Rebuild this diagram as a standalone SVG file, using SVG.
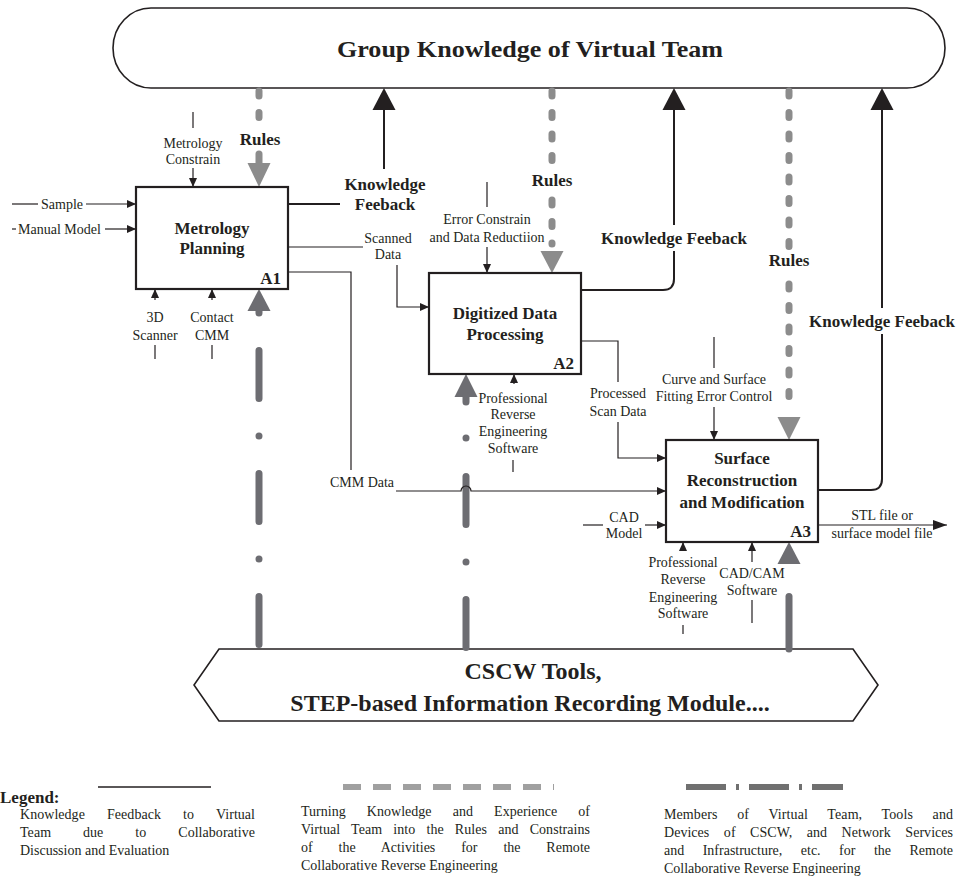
<svg xmlns="http://www.w3.org/2000/svg" width="960" height="885" viewBox="0 0 960 885">
<defs>
<style>
.t{font-family:"Liberation Serif","Times New Roman",serif;font-size:14px;fill:#231f20;text-anchor:middle}
.b{font-weight:bold;font-size:17px}
.s{text-anchor:start}
.ln{stroke:#231f20;stroke-width:1.2;fill:none}
.kf{stroke:#231f20;stroke-width:2;fill:none}
.box{fill:#fff;stroke:#231f20;stroke-width:2.2}
.rule{stroke:#8c8c8c;stroke-width:7;stroke-linecap:round;stroke-dasharray:5 16.5;fill:none}
.rhead{fill:#8c8c8c}
.mem{stroke:#6d6d72;stroke-width:7;stroke-linecap:round;fill:none}
.memd{stroke:#6d6d72;stroke-width:7;stroke-linecap:round;stroke-dasharray:48 37.5 0 37.5;fill:none}
.mhead{fill:#6d6d72}
.khead{fill:#231f20}
</style>
<marker id="ar" markerUnits="userSpaceOnUse" markerWidth="10" markerHeight="9" refX="9" refY="4" orient="auto">
<path d="M0,0 L9,4 L0,8 z" fill="#231f20"/>
</marker>
<marker id="arL" markerUnits="userSpaceOnUse" markerWidth="15" markerHeight="10" refX="14" refY="5" orient="auto">
<path d="M0,0 L14,5 L0,10 z" fill="#231f20"/>
</marker>
</defs>
<rect width="960" height="885" fill="#fff"/>

<g id="group-knowledge">
<rect x="113" y="8" width="832" height="80" rx="38" ry="40" fill="#fff" stroke="#231f20" stroke-width="1.6"/>
<text class="t b" x="530" y="57" style="font-size:24px" textLength="386" lengthAdjust="spacingAndGlyphs">Group Knowledge  of  Virtual Team</text>
</g>

<g id="cscw-tools">
<polygon points="219,649 853,649 878,685 853,721 219,721 194,685" fill="#fff" stroke="#231f20" stroke-width="1.6"/>
<text class="t b" x="533" y="679" style="font-size:24px">CSCW Tools,</text>
<text class="t b" x="530" y="711" style="font-size:24px">STEP-based Information Recording Module....</text>
</g>

<g id="connectors">
<!-- Rules (gray dashed) -->
<path class="rule" d="M259,91 V125"/>
<text class="t b" x="260" y="145">Rules</text>
<path d="M259,154 V164" stroke="#8c8c8c" stroke-width="7" stroke-linecap="round"/>
<polygon class="rhead" points="247.5,163 270.5,163 259,187"/>

<path class="rule" d="M552,91 V166"/>
<text class="t b" x="552" y="186">Rules</text>
<path class="rule" d="M552,200 V244"/>
<polygon class="rhead" points="540.5,251 563.5,251 552,273"/>

<path class="rule" d="M789,91 V248"/>
<text class="t b" x="789" y="266">Rules</text>
<path class="rule" d="M789,284 V410"/>
<polygon class="rhead" points="777.5,417 800.5,417 789,440"/>

<!-- Members (dash-dot) -->
<polygon class="mhead" points="247.5,311 270.5,311 259,289"/>
<path class="mem" d="M259,309 V313"/>
<path class="memd" d="M259,350.5 V649"/>

<polygon class="mhead" points="454.5,397 477.5,397 466,374"/>
<path class="mem" d="M466,396 V402"/>
<circle cx="466" cy="438" r="3.5" fill="#6d6d72"/>
<path class="memd" d="M466,476.5 V649"/>

<polygon class="mhead" points="777.5,564 800.5,564 789,542"/>
<path class="mem" d="M789,596.5 V649"/>

<!-- Knowledge feedback -->
<path class="kf" d="M288,204 H340"/>
<path class="kf" d="M384,169 V108"/>
<polygon class="khead" points="372.5,110 395.5,110 384,88"/>
<text class="t b" x="385" y="190">Knowledge</text>
<text class="t b" x="385" y="210">Feeback</text>

<path class="kf" d="M581,290 H663 Q674,290 674,279 V251"/>
<path class="kf" d="M674,225 V108"/>
<polygon class="khead" points="662.5,110 685.5,110 674,88"/>
<text class="t b" x="674" y="244">Knowledge Feeback</text>

<path class="kf" d="M818,490 H871 Q882,490 882,479 V334"/>
<path class="kf" d="M882,308 V108"/>
<polygon class="khead" points="870.5,110 893.5,110 882,88"/>
<text class="t b" x="882" y="327">Knowledge Feeback</text>

<!-- A1 inputs / controls / mechanisms -->
<path class="ln" d="M12,204 H38"/>
<text class="t" x="62" y="209">Sample</text>
<path class="ln" d="M86,204 H136" marker-end="url(#ar)"/>
<path class="ln" d="M12,229 H16"/>
<text class="t s" x="18" y="234">Manual Model</text>
<path class="ln" d="M105,229 H136" marker-end="url(#ar)"/>

<path class="ln" d="M193,112 V128"/>
<text class="t" x="193" y="148">Metrology</text>
<text class="t" x="193" y="164">Constrain</text>
<path class="ln" d="M193,168 V187" marker-end="url(#ar)"/>

<path class="ln" d="M155,300 V289" marker-end="url(#ar)"/>
<text class="t" x="155" y="322">3D</text>
<text class="t" x="155" y="340">Scanner</text>
<path class="ln" d="M155,345 V359"/>
<path class="ln" d="M212,300 V289" marker-end="url(#ar)"/>
<text class="t" x="212" y="322">Contact</text>
<text class="t" x="212" y="340">CMM</text>
<path class="ln" d="M212,345 V359"/>

<!-- A1 -> A2 scanned data -->
<path class="ln" d="M288,247 H363"/>
<text class="t" x="388" y="243">Scanned</text>
<text class="t" x="388" y="259">Data</text>
<path class="ln" d="M397,265 V307 H429" marker-end="url(#ar)"/>

<!-- A1 -> A3 CMM data -->
<path class="ln" d="M288,272 H351 V470"/>
<text class="t" x="362" y="487">CMM Data</text>
<path class="ln" d="M396,491 H461 A5,5 0 0 1 471,491 H666" marker-end="url(#ar)"/>

<!-- A2 control / mechanism -->
<path class="ln" d="M487,182 V207"/>
<text class="t" x="487" y="224">Error Constrain</text>
<text class="t" x="487" y="242">and Data Reductiion</text>
<path class="ln" d="M487,247 V273" marker-end="url(#ar)"/>

<path class="ln" d="M514,384 V374" marker-end="url(#ar)"/>
<text class="t" x="513" y="403">Professional</text>
<text class="t" x="513" y="419">Reverse</text>
<text class="t" x="513" y="436">Engineering</text>
<text class="t" x="513" y="453">Software</text>
<path class="ln" d="M513,460 V472"/>

<!-- A2 -> A3 processed scan data -->
<path class="ln" d="M581,341 H618 V382"/>
<text class="t" x="618" y="398">Processed</text>
<text class="t" x="618" y="416">Scan Data</text>
<path class="ln" d="M618,422 V458 H666" marker-end="url(#ar)"/>

<!-- A3 control / inputs / mechanisms / output -->
<path class="ln" d="M714,337 V368"/>
<text class="t" x="714" y="384">Curve and Surface</text>
<text class="t" x="714" y="401">Fitting Error Control</text>
<path class="ln" d="M714,407 V440" marker-end="url(#ar)"/>

<path class="ln" d="M583,525 H603"/>
<text class="t" x="624" y="522">CAD</text>
<text class="t" x="624" y="538">Model</text>
<path class="ln" d="M645,525 H666" marker-end="url(#ar)"/>

<path class="ln" d="M818,525 H947" marker-end="url(#arL)"/>
<text class="t" x="882" y="520">STL file or</text>
<text class="t" x="882" y="538">surface model file</text>

<path class="ln" d="M683,551 V542" marker-end="url(#ar)"/>
<text class="t" x="683" y="567">Professional</text>
<text class="t" x="683" y="584">Reverse</text>
<text class="t" x="683" y="602">Engineering</text>
<text class="t" x="683" y="618">Software</text>
<path class="ln" d="M683,625 V634"/>

<path class="ln" d="M752,562 V542" marker-end="url(#ar)"/>
<text class="t" x="752" y="578">CAD/CAM</text>
<text class="t" x="752" y="595">Software</text>
<path class="ln" d="M752,600 V623"/>
</g>

<g id="A1">
<rect class="box" x="136" y="187" width="152" height="102"/>
<text class="t b" x="212" y="234">Metrology</text>
<text class="t b" x="212" y="254">Planning</text>
<text class="t b" x="281" y="284" style="text-anchor:end">A1</text>
</g>

<g id="A2">
<rect class="box" x="429" y="273" width="152" height="101"/>
<text class="t b" x="505" y="319">Digitized Data</text>
<text class="t b" x="505" y="340">Processing</text>
<text class="t b" x="574" y="369" style="text-anchor:end">A2</text>
</g>

<g id="A3">
<rect class="box" x="666" y="440" width="152" height="102"/>
<text class="t b" x="742" y="464">Surface</text>
<text class="t b" x="742" y="486">Reconstruction</text>
<text class="t b" x="742" y="508">and Modification</text>
<text class="t b" x="811" y="537" style="text-anchor:end">A3</text>
</g>

<g id="legend">
<text class="t b s" x="0" y="803">Legend:</text>
<path d="M98,787 H211" stroke="#231f20" stroke-width="1.6"/>
<path d="M343,787 H554" stroke="#a0a0a0" stroke-width="6" stroke-dasharray="18 12"/>
<path d="M686,787 H843" stroke="#707070" stroke-width="6" stroke-dasharray="40 10 3 10"/>

<text class="t s" x="20" y="819" word-spacing="18.6" textLength="235" lengthAdjust="spacing">Knowledge Feedback to Virtual</text>
<text class="t s" x="20" y="837" word-spacing="28.4" textLength="235" lengthAdjust="spacing">Team due to Collaborative</text>
<text class="t s" x="20" y="855">Discussion and Evaluation</text>

<text class="t s" x="301" y="816" word-spacing="17.6" textLength="289" lengthAdjust="spacing">Turning Knowledge and Experience of</text>
<text class="t s" x="301" y="834" word-spacing="7.6" textLength="289" lengthAdjust="spacing">Virtual Team into the Rules and Constrains</text>
<text class="t s" x="301" y="852" word-spacing="22.3" textLength="289" lengthAdjust="spacing">of the Activities for the Remote</text>
<text class="t s" x="301" y="870">Collaborative Reverse Engineering</text>

<text class="t s" x="664" y="819" word-spacing="16" textLength="289" lengthAdjust="spacing">Members of Virtual Team, Tools and</text>
<text class="t s" x="664" y="837" word-spacing="11" textLength="289" lengthAdjust="spacing">Devices of CSCW, and Network Services</text>
<text class="t s" x="664" y="855" word-spacing="15" textLength="289" lengthAdjust="spacing">and Infrastructure, etc. for the Remote</text>
<text class="t s" x="664" y="873">Collaborative Reverse Engineering</text>
</g>
</svg>
